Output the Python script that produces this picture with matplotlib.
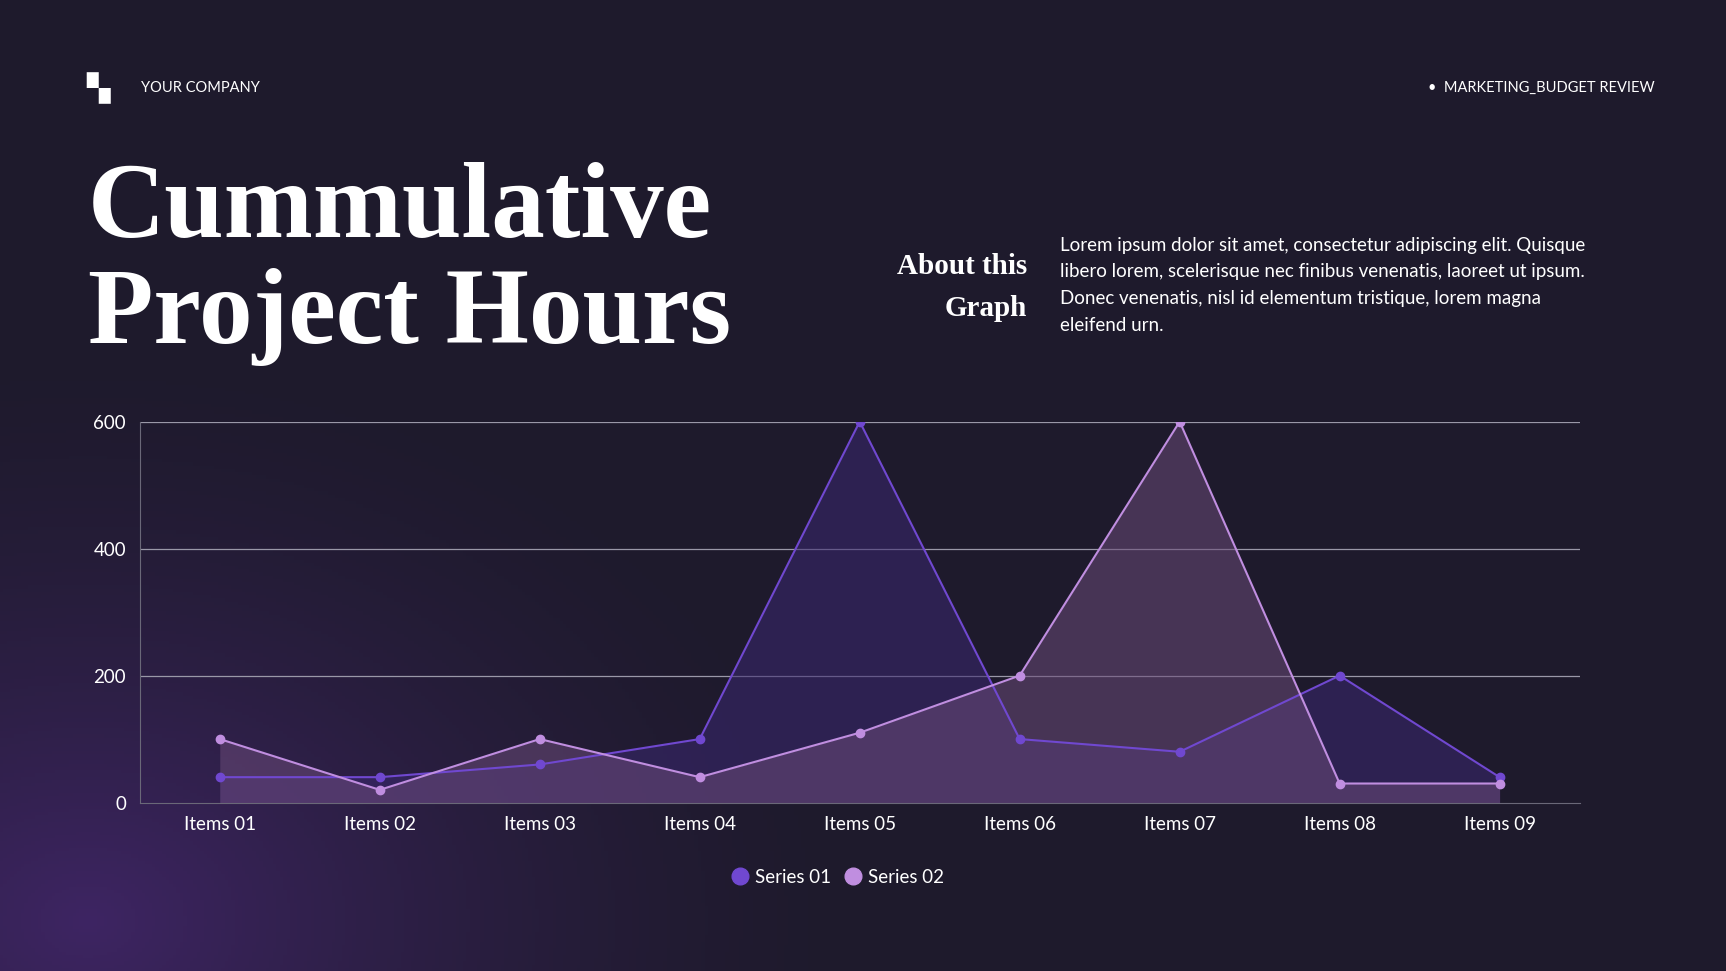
import numpy as np
import matplotlib.pyplot as plt

categories = ["Items 01", "Items 02", "Items 03", "Items 04", "Items 05",
              "Items 06", "Items 07", "Items 08", "Items 09"]
series_01 = [40, 40, 60, 100, 600, 100, 80, 200, 40]
series_02 = [100, 20, 100, 40, 110, 200, 600, 30, 30]
y_ticks = [0, 200, 400, 600]

W, H = 1568, 882
fig = plt.figure(figsize=(17.26, 9.71), dpi=100)

# background with purple glow in lower left
bg = fig.add_axes([0, 0, 1, 1])
yy, xx = np.mgrid[0:1:300j, 0:1:500j]
d = np.sqrt(((xx - 0.05) / 0.45) ** 2 + ((yy - 0.95) / 0.6) ** 2)
glow = np.clip(1 - d, 0, 1) ** 1.5
base = np.array([0x1e, 0x1a, 0x2c]) / 255
hot = np.array([0x3e, 0x25, 0x63]) / 255
img = base + glow[..., None] * (hot - base)
bg.imshow(img, extent=[0, 1, 0, 1], aspect="auto", origin="upper")
bg.set_xlim(0, 1); bg.set_ylim(0, 1); bg.axis("off")

def fx(x): return x / W
def fy(y): return 1 - y / H

# header
bg.text(fx(78), fy(80), "▚", color="white", fontsize=22, va="center", ha="left", fontweight="bold")
bg.text(fx(128), fy(80), "YOUR COMPANY", color="white", fontsize=10.5, va="center", family="Lato")
bg.text(fx(1503), fy(80), "•  MARKETING_BUDGET REVIEW", color="white", fontsize=10.5,
        va="center", ha="right", family="Lato")
bg.text(fx(80), fy(192), "Cummulative", color="white", fontsize=77, va="center",
        family="Liberation Serif", fontweight="bold")
bg.text(fx(80), fy(288), "Project Hours", color="white", fontsize=77, va="center",
        family="Liberation Serif", fontweight="bold")
bg.text(fx(933), fy(242), "About this", color="white", fontsize=21, va="center", ha="right",
        family="Liberation Serif", fontweight="bold")
bg.text(fx(933), fy(280), "Graph", color="white", fontsize=21, va="center", ha="right",
        family="Liberation Serif", fontweight="bold")
bg.text(fx(963), fy(215),
        "Lorem ipsum dolor sit amet, consectetur adipiscing elit. Quisque\n"
        "libero lorem, scelerisque nec finibus venenatis, laoreet ut ipsum.\n"
        "Donec venenatis, nisl id elementum tristique, lorem magna\n"
        "eleifend urn.",
        color="white", fontsize=13.5, va="top", ha="left", family="Lato", linespacing=1.7)

# chart
ax = fig.add_axes([127 / W, 1 - 729 / H, (1435 - 127) / W, (729 - 383) / H])
ax.patch.set_alpha(0)
x = np.arange(len(categories))
c1, c2 = "#7048d0", "#c08ee0"
ax.fill_between(x, series_01, color="#3a2870", alpha=0.55, lw=0)
ax.fill_between(x, series_02, color="#6a4a78", alpha=0.55, lw=0)
ax.plot(x, series_01, color=c1, lw=1.5, marker="o", ms=6, label="Series 01")
ax.plot(x, series_02, color=c2, lw=1.5, marker="o", ms=6, label="Series 02")
ax.set_xlim(-0.5, len(categories) - 0.5)
ax.set_ylim(0, 600)
ax.set_yticks(y_ticks)
ax.set_xticks(x, categories)
for y in y_ticks[1:]:
    ax.axhline(y, color="#9a98a8", lw=0.9, zorder=0)
for s in ["top", "right"]:
    ax.spines[s].set_visible(False)
for s in ["left", "bottom"]:
    ax.spines[s].set_color("#6a6878")
ax.tick_params(length=0, colors="white", labelsize=13.5, pad=10)
for lab in ax.get_xticklabels() + ax.get_yticklabels():
    lab.set_family("Lato")
ax.legend(loc="upper center", bbox_to_anchor=(0.485, -0.13), ncol=2, frameon=False,
          handlelength=0.8, handletextpad=0.4, columnspacing=0.8,
          prop={"family": "Lato", "size": 13.5}, labelcolor="white")
leg = ax.get_legend()
for h in leg.legend_handles:
    h.set_linestyle("None"); h.set_markersize(12)

fig.savefig("out.png", dpi=100)
